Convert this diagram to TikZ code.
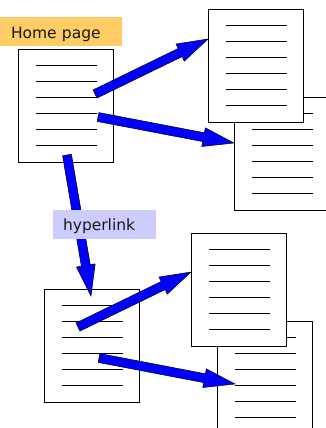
\documentclass[tikz,border=0pt]{standalone}
\usepackage{fontspec}
\setmainfont{DejaVu Sans}
\usetikzlibrary{calc}
\definecolor{homeorange}{HTML}{FFCC66}
\definecolor{linklav}{HTML}{CCCCFF}
\tikzset{
  docbox/.style={draw=black, fill=white, line width=0.8pt, minimum width=95pt, minimum height=113pt, inner sep=0pt, outer sep=0pt, anchor=north west},
  docline/.style={line width=0.8pt, black},
  fatarrow/.style={fill=blue, draw=black, line width=0.5pt, line join=miter},
  labelbox/.style={anchor=north west, inner ysep=0pt, outer sep=0pt, align=left, font=\fontsize{15.5}{18}\selectfont, text=black!90}
}
\newcommand{\docpage}[3]{%
  \node[docbox] (#1) at (#2,#3) {};
  \foreach \k in {1,...,6}
    \draw[docline] ([xshift=17.5pt, yshift={-\k*16pt}]#1.north west) -- ++(61,0);
}
\newcommand{\fatarrow}[2]{%
  \coordinate (#1c) at ($(#2)!31pt!(#1)$);
  \filldraw[fatarrow] ($(#1)!4.5pt!90:(#2)$) -- ($(#1c)!4.5pt!90:(#2)$) -- ($(#1c)!9.5pt!90:(#2)$) -- (#2) -- ($(#1c)!9.5pt!-90:(#2)$) -- ($(#1c)!4.5pt!-90:(#2)$) -- ($(#1)!4.5pt!-90:(#2)$) -- cycle;
}
\begin{document}
\begin{tikzpicture}[x=1pt, y=-1pt]
\useasboundingbox (0,0) rectangle (326,428);
\clip (0,0) rectangle (326,428);
% documents
\docpage{d1}{18}{49}
\docpage{d3}{234}{97}
\docpage{d2}{208}{9}
\docpage{d4}{44}{289}
\docpage{d6}{217}{321}
\docpage{d5}{191}{233}
% arrow ends
\coordinate (s1) at (95,94);
\coordinate (t1) at ([yshift=-30pt]d2.north west);
\coordinate (s2) at (98,117);
\coordinate (t2) at ([yshift=-46pt]d3.north west);
\coordinate (s3) at (67,155);
\coordinate (t3) at ([xshift=47pt, yshift=-7pt]d4.north west);
\coordinate (s4) at (78,327);
\coordinate (t4) at ([yshift=-39pt]d5.north west);
\coordinate (s5) at (99,358);
\coordinate (t5) at ([xshift=18pt, yshift=-63pt]d6.north west);
\fatarrow{s1}{t1}
\fatarrow{s2}{t2}
\fatarrow{s3}{t3}
\fatarrow{s4}{t4}
\fatarrow{s5}{t5}
% labels
\node[labelbox, fill=homeorange, inner xsep=11pt, text width=100pt, text height=21.3pt, text depth=7.7pt] (home) at (0,17) {Home page};
\node[labelbox, fill=linklav, inner xsep=10pt, text width=83pt, text height=20.5pt, text depth=8.5pt] (link) at (53,210) {hyperlink};
\end{tikzpicture}
\end{document}
